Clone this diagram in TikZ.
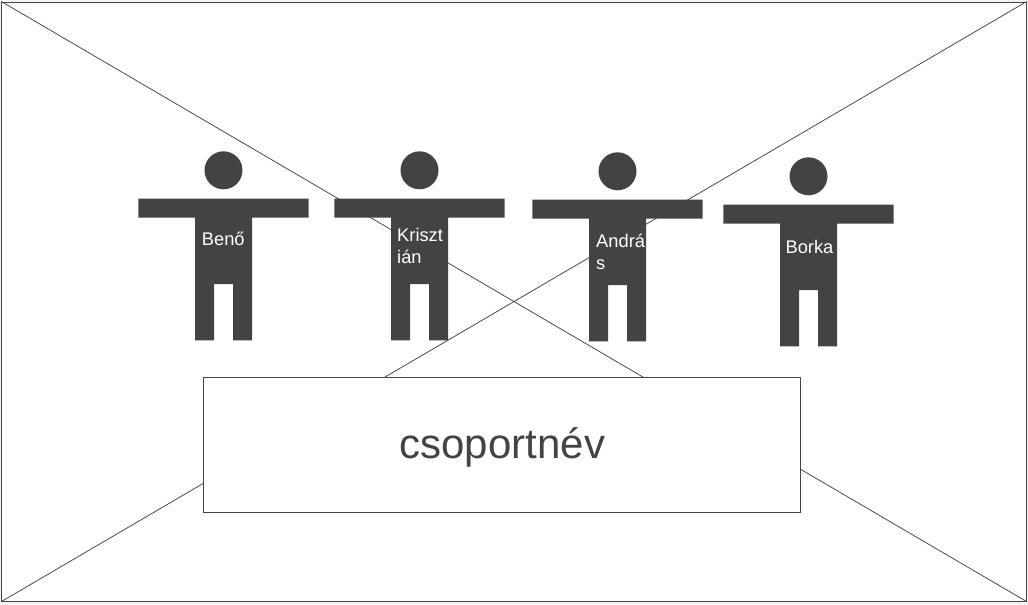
\documentclass[tikz,border=0pt]{standalone}
\usepackage{fontspec}
\setmainfont{Liberation Sans}
\definecolor{ink}{HTML}{434343}
\definecolor{page}{HTML}{F4F4F4}
\tikzset{
  x=1pt,y=-1pt,
  wire/.style={draw=ink,line width=0.9pt},
  thin wire/.style={draw=ink,line width=0.75pt},
  person name/.style={text=white,font=\fontsize{18.3}{22}\selectfont,inner sep=0pt,align=left},
  pics/person/.style={code={
    \fill[ink] (0,-51) circle[radius=19];
    \fill[ink] (-85.2,-22.6) -- (85.2,-22.6) -- (85.2,-3.7) -- (28.5,-3.7) -- (28.5,119.1) -- (9.5,119.1)
      -- (9.5,62.7) -- (-9.5,62.7) -- (-9.5,119.1) -- (-28.5,119.1) -- (-28.5,-3.7) -- (-85.2,-3.7) -- cycle;
  }}
}
\begin{document}
\begin{tikzpicture}
\useasboundingbox[fill=page] (0,0) rectangle (1028,605);
\node[wire,fill=white,minimum width=1024.5pt,minimum height=599.2pt,inner sep=0pt,anchor=north west] (frame) at (1.3,1.5) {};
\draw[thin wire] (frame.north west) -- (frame.south east);
\draw[thin wire] (frame.north east) -- (frame.south west);
\node[wire,fill=white,minimum width=597.2pt,minimum height=135pt,inner sep=0pt,anchor=north west] (group) at (203,377) {};
\node[text=ink,font=\fontsize{42}{48}\selectfont,inner sep=0pt] (groupname) at (502.3,447) {csoportnév};
\pic at (223.5,221.3) {person};
\pic at (419.5,221.3) {person};
\pic at (617.5,222.3) {person};
\pic at (808.5,227.3) {person};
\node[person name,anchor=center] (beno) at (223.3,239.3) {Benő};
\node[person name,anchor=west] (krisztian) at (397,246) {Kriszt\\ián};
\node[person name,anchor=west] (andras) at (596,252) {Andrá\\s};
\node[person name,anchor=center] (borka) at (809.5,247) {Borka};
\end{tikzpicture}
\end{document}
